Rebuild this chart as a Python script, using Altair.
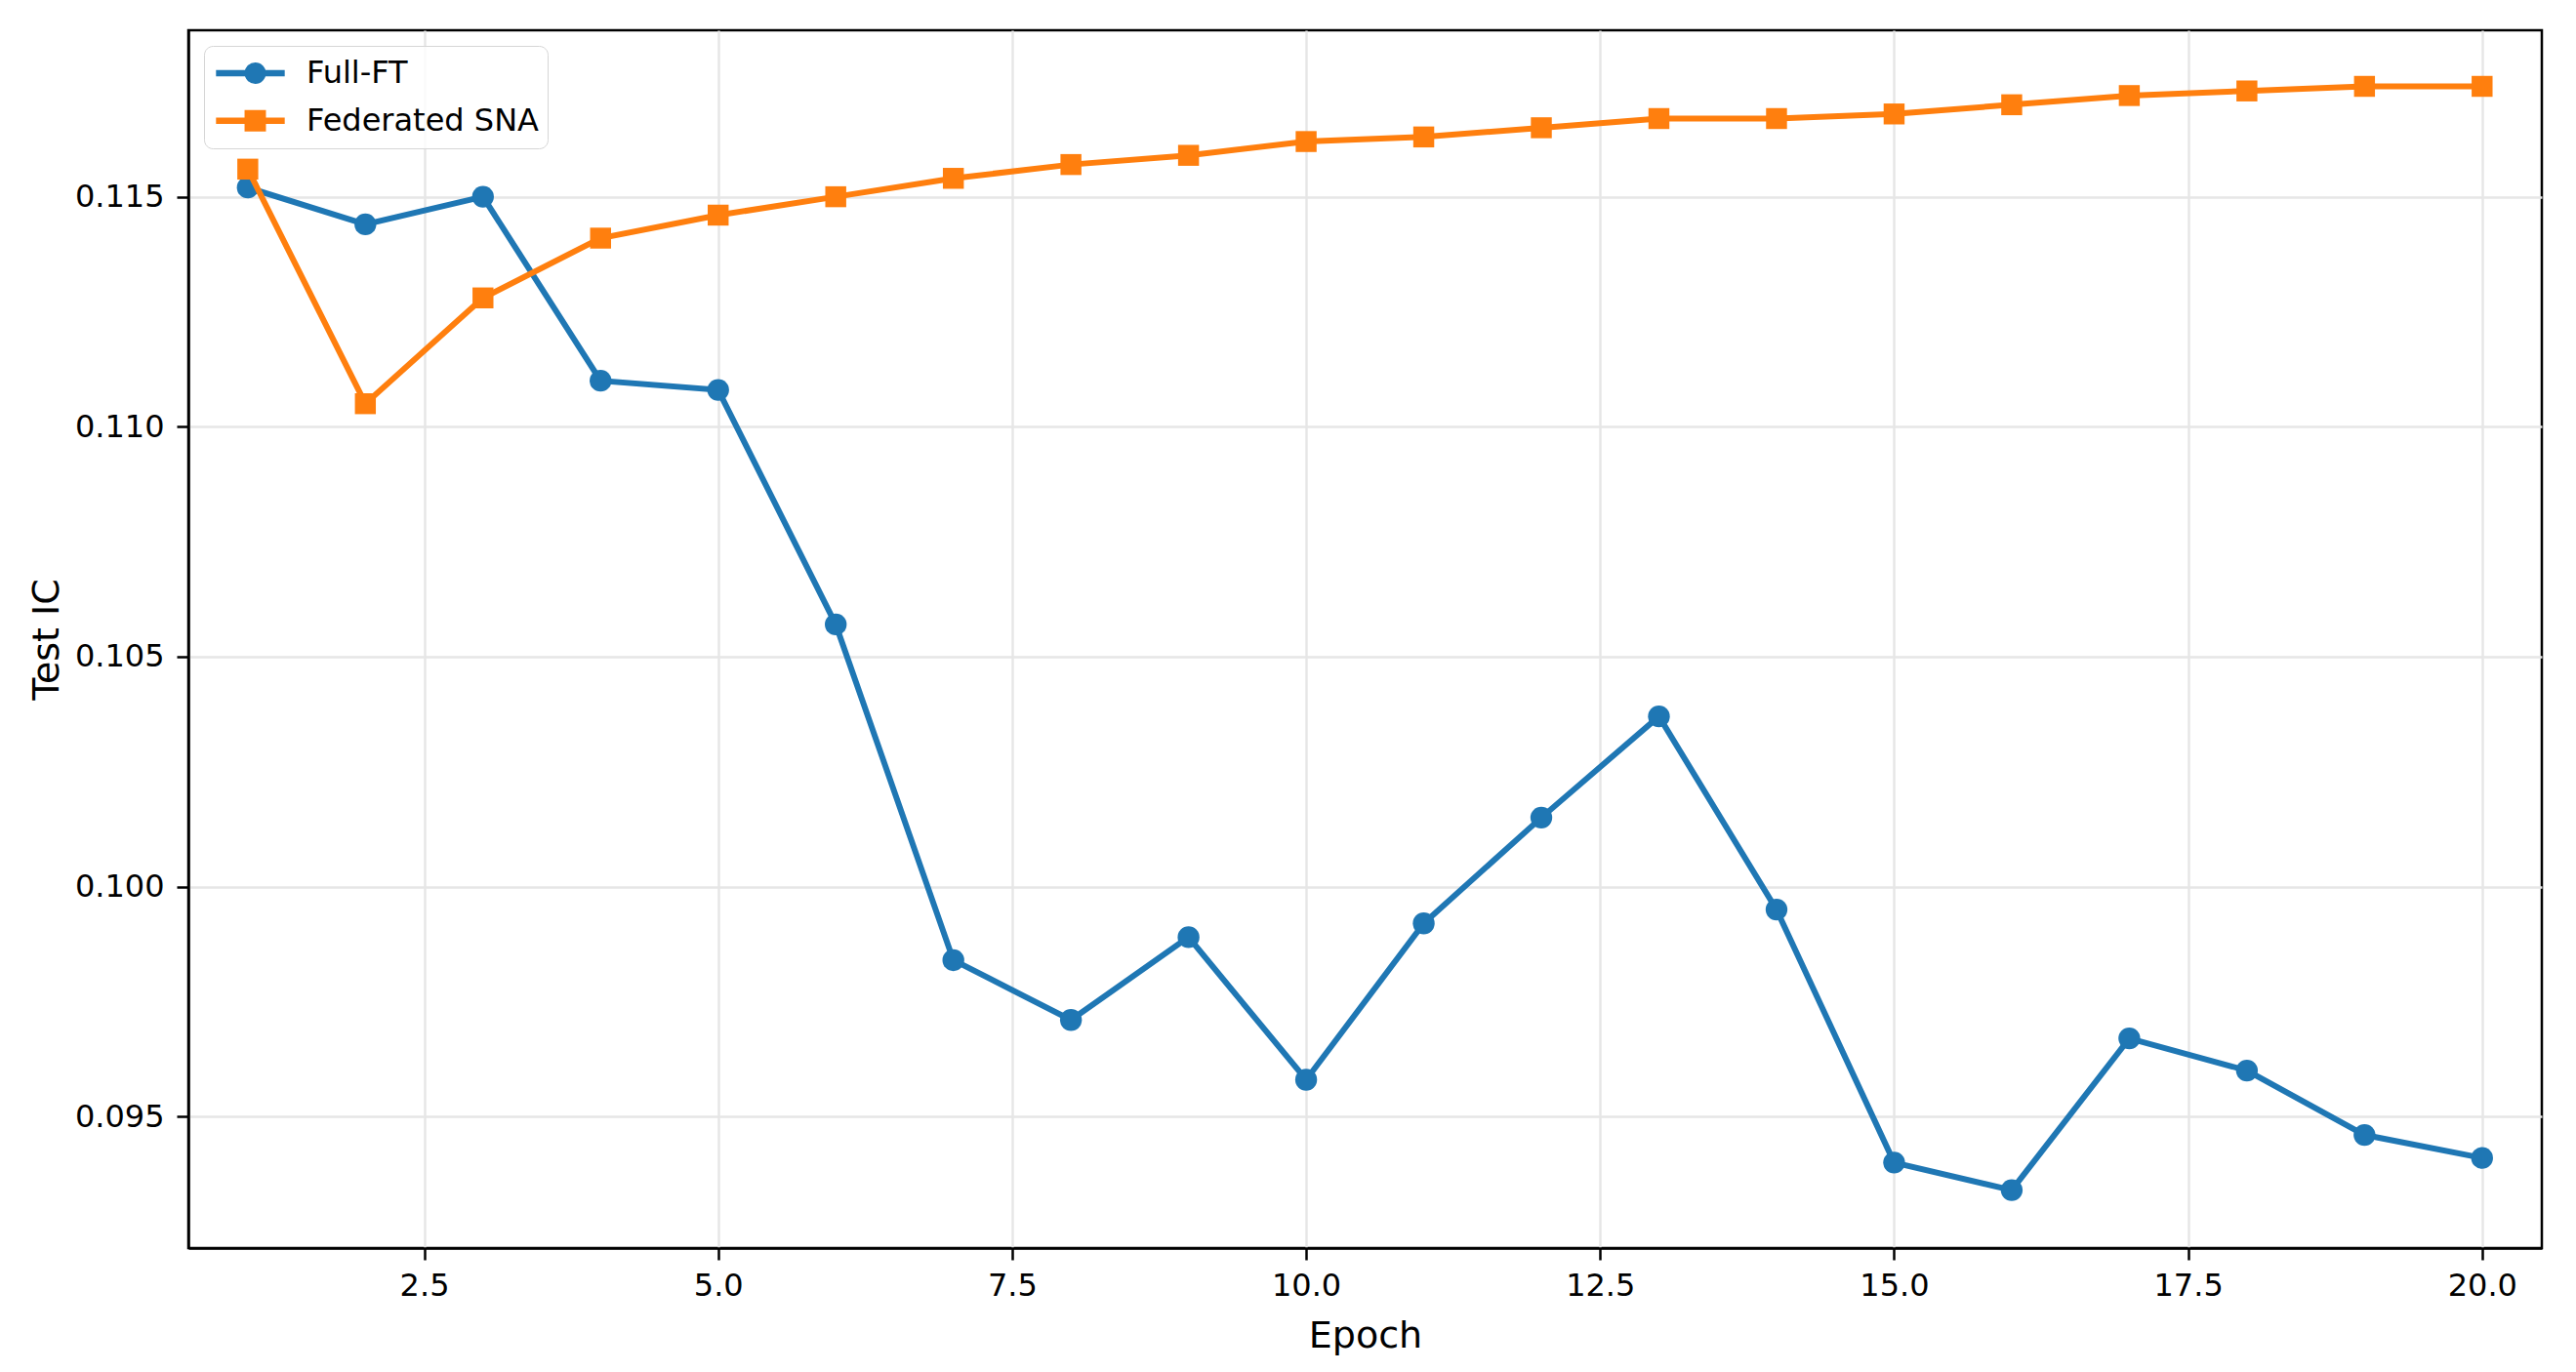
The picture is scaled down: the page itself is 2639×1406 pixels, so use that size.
import altair as alt
import pandas as pd

# ---- data ----
epochs = [1, 2, 3, 4, 5, 6, 7, 8, 9, 10, 11, 12, 13, 14, 15, 16, 17, 18, 19, 20]
full_ft = [0.1152, 0.1144, 0.1150, 0.1110, 0.1108, 0.1057, 0.0984, 0.0971, 0.0989, 0.0958,
           0.0992, 0.1015, 0.1037, 0.0995, 0.0940, 0.0934, 0.0967, 0.0960, 0.0946, 0.0941]
fed_sna = [0.1156, 0.1105, 0.1128, 0.1141, 0.1146, 0.1150, 0.1154, 0.1157, 0.1159, 0.1162,
           0.1163, 0.1165, 0.1167, 0.1167, 0.1168, 0.1170, 0.1172, 0.1173, 0.1174, 0.1174]
series_names = ["Full-FT", "Federated SNA"]
series_colors = ["#1f77b4", "#ff7f0e"]
series_shapes = ["circle", "square"]
x_ticks = [2.5, 5.0, 7.5, 10.0, 12.5, 15.0, 17.5, 20.0]
y_ticks = [0.095, 0.100, 0.105, 0.110, 0.115]

rows = []
for e, v in zip(epochs, full_ft):
    rows.append({"Epoch": e, "IC": v, "Series": "Full-FT"})
for e, v in zip(epochs, fed_sna):
    rows.append({"Epoch": e, "IC": v, "Series": "Federated SNA"})
df = pd.DataFrame(rows)

FONT = "DejaVu Sans"

x_enc = alt.X(
    "Epoch:Q",
    scale=alt.Scale(domain=[0.495, 20.508], nice=False, zero=False),
    axis=alt.Axis(values=x_ticks, format=".1f", title="Epoch",
                  titleY=101, titleBaseline="alphabetic", labelPadding=11),
)
y_enc = alt.Y(
    "IC:Q",
    scale=alt.Scale(domain=[0.09214, 0.11862], nice=False, zero=False),
    axis=alt.Axis(values=y_ticks, format=".3f", title="Test IC",
                  titleX=-134, titleBaseline="alphabetic", labelPadding=13),
)

common_legend = dict(
    title=None, orient="none", legendX=16, legendY=16,
    clipHeight=38, rowPadding=10.7, padding=9,
    labelFontSize=32, labelFont=FONT, labelLimit=400,
)

# legend drawn underneath: line handles + labels + frame
line_legend = alt.Legend(
    symbolType="stroke", symbolSize=4956, symbolStrokeWidth=6.4, symbolOpacity=1,
    labelOffset=19, labelColor="black",
    fillColor="rgba(255,255,255,0.8)", strokeColor="#d6d6d6", cornerRadius=9,
    **common_legend,
)
# legend drawn on top: only the markers, centred on the line handles (no text)
marker_legend = alt.Legend(
    symbolSize=480, symbolStrokeWidth=0, symbolOpacity=1, symbolOffset=27.5,
    labelOffset=19, labelExpr="''",
    fillColor="rgba(0,0,0,0)", strokeColor="rgba(0,0,0,0)",
    **common_legend,
)

line_color = alt.Color("Series:N", sort=series_names,
                       scale=alt.Scale(range=series_colors), legend=line_legend)
marker_fill = alt.Fill("Series:N", scale=alt.Scale(domain=series_names, range=series_colors),
                       legend=marker_legend)
marker_shape = alt.Shape("Series:N", scale=alt.Scale(domain=series_names, range=series_shapes),
                         legend=marker_legend)

base = alt.Chart(df)

line_ft = base.transform_filter(alt.datum.Series == "Full-FT").mark_line(strokeWidth=6).encode(
    x=x_enc, y=y_enc, color=line_color)
pts_ft = base.transform_filter(alt.datum.Series == "Full-FT").mark_point(
    size=500, opacity=1, filled=True, strokeWidth=0).encode(
    x=x_enc, y=y_enc, fill=marker_fill, shape=marker_shape)
line_sna = base.transform_filter(alt.datum.Series == "Federated SNA").mark_line(strokeWidth=6).encode(
    x=x_enc, y=y_enc, color=line_color)
pts_sna = base.transform_filter(alt.datum.Series == "Federated SNA").mark_point(
    size=460, opacity=1, filled=True, strokeWidth=0).encode(
    x=x_enc, y=y_enc, fill=marker_fill, shape=marker_shape)

chart = alt.layer(line_ft, pts_ft, line_sna, pts_sna).properties(
    width=2411, height=1248,
    autosize=alt.AutoSizeParams(type="none"),
    padding={"left": 185, "top": 23, "right": 27, "bottom": 119},
).configure_axis(
    labelFont=FONT, labelFontSize=32, labelColor="black",
    titleFont=FONT, titleFontSize=38, titleColor="black", titleFontWeight="normal",
    domainColor="black", domainWidth=2.5,
    tickColor="black", tickWidth=2.5, tickSize=12,
    grid=True, gridColor="#e6e6e6", gridWidth=2.4,
).configure_view(
    stroke="black", strokeWidth=2.5,
)

chart.save("out.html", embed_options={"renderer": "svg", "actions": False})
